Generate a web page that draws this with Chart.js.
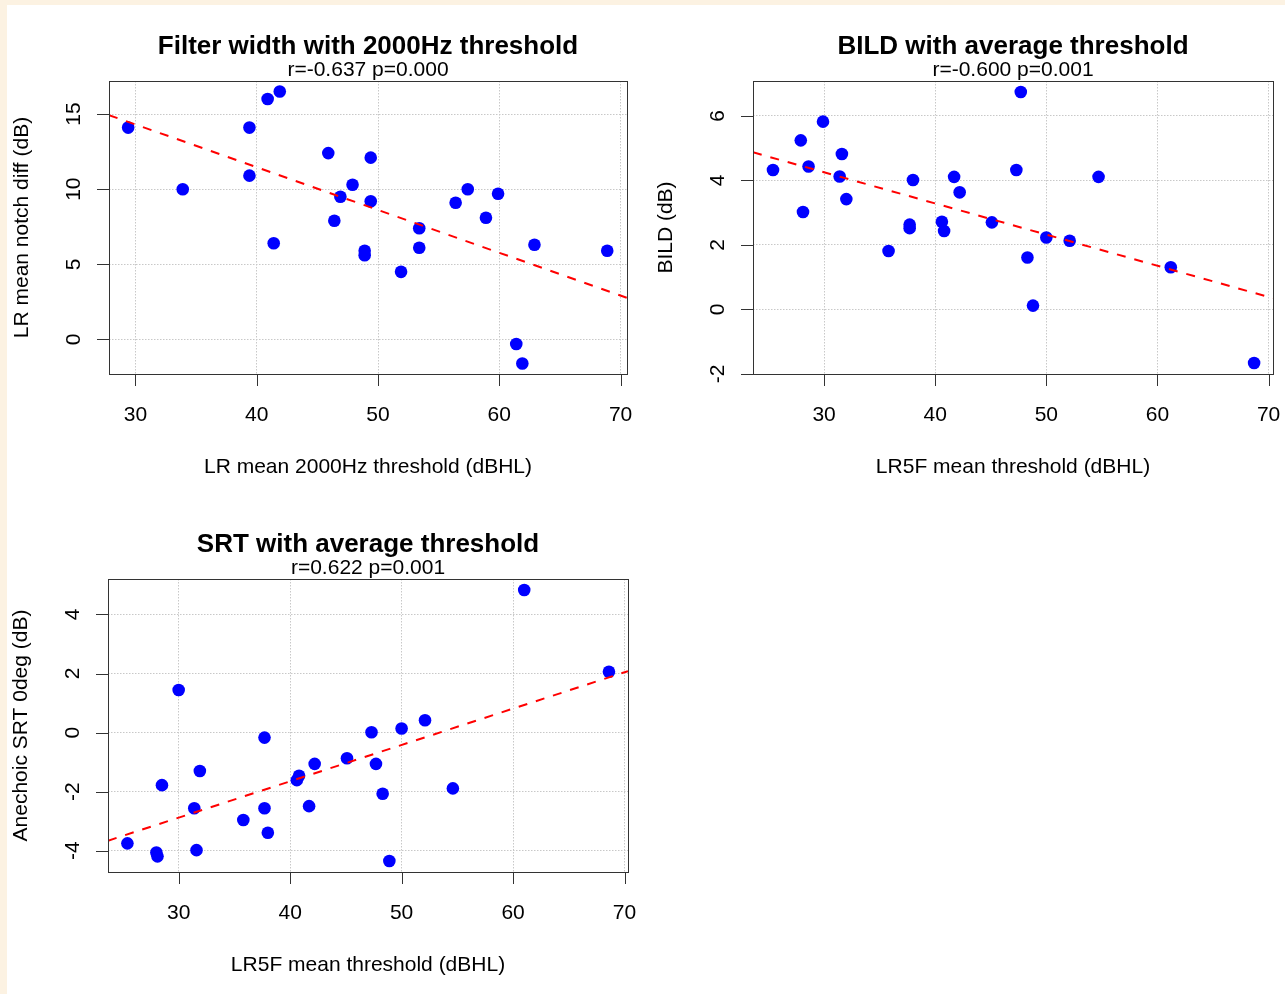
<!DOCTYPE html>
<html>
<head>
<meta charset="utf-8">
<script src="https://cdn.jsdelivr.net/npm/chart.js@4.4.1/dist/chart.umd.min.js"></script>
<style>
  html, body { margin: 0; padding: 0; background: #fff; }
  body { width: 1285px; height: 994px; position: relative; overflow: hidden; }
  canvas { position: absolute; left: 0; top: 0; }
  .edgeTop { position: absolute; left: 0; top: 0; width: 1285px; height: 5px; background: #fcf2e2; }
  .edgeLeft { position: absolute; left: 0; top: 0; width: 7px; height: 994px; background: #fcf2e2; }
</style>
</head>
<body>
<div class="edgeTop"></div>
<div class="edgeLeft"></div>
<canvas id="chart1" width="1285" height="994"></canvas>
<canvas id="chart2" width="1285" height="994"></canvas>
<canvas id="chart3" width="1285" height="994"></canvas>
<script>
// Panel 1: filter width vs 2000Hz threshold
const x1 = [29.4, 33.9, 39.4, 39.4, 40.9, 41.9, 41.4, 45.9, 49.4, 47.9, 46.9, 49.4, 46.4,
            48.9, 48.9, 51.9, 53.4, 53.4, 56.4, 57.4, 59.9, 58.9, 62.9, 68.9, 61.4, 61.9];
const y1 = [14.1, 10.0, 14.1, 10.9, 16.0, 16.5, 6.4, 12.4, 12.1, 10.3, 9.5, 9.2, 7.9,
            5.9, 5.6, 4.5, 7.4, 6.1, 9.1, 10.0, 9.7, 8.1, 6.3, 5.9, -0.3, -1.6];
const fitX1 = [27.82, 70.53];
const fitY1 = [14.93, 2.77];
const xTicks1 = [30, 40, 50, 60, 70];
const yTicks1 = [0, 5, 10, 15];

// Panel 2: BILD vs average threshold
const x2 = [25.4, 27.9, 28.1, 28.6, 29.9, 31.4, 31.6, 32.0, 35.8, 37.7, 37.7, 38.0, 40.6,
            40.8, 41.7, 42.2, 45.1, 47.3, 47.7, 48.3, 48.8, 50.0, 52.1, 54.7, 61.2, 68.7];
const y2 = [4.32, 5.24, 3.02, 4.43, 5.82, 4.12, 4.82, 3.42, 1.81, 2.63, 2.52, 4.01, 2.72,
            2.43, 4.11, 3.63, 2.70, 4.32, 6.74, 1.61, 0.12, 2.23, 2.13, 4.11, 1.31, -1.66];
const fitX2 = [23.6, 70.4];
const fitY2 = [4.87, 0.35];
const xTicks2 = [30, 40, 50, 60, 70];
const yTicks2 = [-2, 0, 2, 4, 6];

// Panel 3: SRT vs average threshold
const x3 = [25.4, 28.0, 28.1, 28.5, 30.0, 31.4, 31.6, 31.9, 35.8, 37.7, 37.7, 38.0, 40.6,
            40.8, 41.7, 42.2, 45.1, 47.3, 47.7, 48.3, 48.9, 50.0, 52.1, 54.6, 61.0, 68.6];
const y3 = [-3.75, -4.06, -4.19, -1.78, 1.44, -2.56, -3.98, -1.30, -2.96, -0.17, -2.56, -3.39, -1.61,
            -1.46, -2.49, -1.06, -0.87, 0.01, -1.06, -2.07, -4.35, 0.14, 0.42, -1.89, 4.83, 2.06];
const fitX3 = [23.66, 70.31];
const fitY3 = [-3.66, 2.08];
const xTicks3 = [30, 40, 50, 60, 70];
const yTicks3 = [-4, -2, 0, 2, 4];

const FONT = '"Liberation Sans", Arial, sans-serif';

// draws the R-style box, tick marks and all the text around the plot region
const rFrame = {
  id: 'rFrame',
  afterDatasetsDraw(chart, args, opts) {
    const { ctx, chartArea: a, scales: { x, y } } = chart;
    const cx = (a.left + a.right) / 2;
    const cy = (a.top + a.bottom) / 2;
    ctx.save();
    ctx.strokeStyle = '#333';
    ctx.lineWidth = 1;
    ctx.strokeRect(a.left + 0.5, a.top + 0.5, a.right - a.left, a.bottom - a.top);

    ctx.beginPath();
    opts.xTicks.forEach(v => {
      const px = Math.round(x.getPixelForValue(v)) + 0.5;
      ctx.moveTo(px, a.bottom);
      ctx.lineTo(px, a.bottom + 12);
    });
    opts.yTicks.forEach(v => {
      const py = Math.round(y.getPixelForValue(v)) + 0.5;
      ctx.moveTo(a.left, py);
      ctx.lineTo(a.left - 12, py);
    });
    ctx.stroke();

    ctx.fillStyle = '#000';
    ctx.textAlign = 'center';
    ctx.textBaseline = 'middle';
    ctx.font = '21px ' + FONT;
    opts.xTicks.forEach(v => ctx.fillText(String(v), x.getPixelForValue(v), a.bottom + 41));
    opts.yTicks.forEach(v => {
      ctx.save();
      ctx.translate(a.left - 35, y.getPixelForValue(v));
      ctx.rotate(-Math.PI / 2);
      ctx.fillText(String(v), 0, 0);
      ctx.restore();
    });
    ctx.fillText(opts.xTitle, cx, a.bottom + 93);
    ctx.save();
    ctx.translate(a.left - 87, cy);
    ctx.rotate(-Math.PI / 2);
    ctx.fillText(opts.yTitle, 0, 0);
    ctx.restore();

    ctx.fillText(opts.subtitle, cx, a.top - 11);
    ctx.font = 'bold 26px ' + FONT;
    ctx.fillText(opts.title, cx, a.top - 34);
    ctx.restore();
  }
};

function makePanel(id, xs, ys, fx, fy, xTicks, yTicks, xr, yr, box, text) {
  new Chart(document.getElementById(id), {
    type: 'scatter',
    data: {
      datasets: [
        {
          type: 'line',
          data: fx.map((v, i) => ({ x: v, y: fy[i] })),
          borderColor: '#ff0000',
          borderWidth: 2,
          borderDash: [9, 9],
          pointRadius: 0,
          fill: false,
          clip: 0,
          order: 0
        },
        {
          data: xs.map((v, i) => ({ x: v, y: ys[i] })),
          backgroundColor: '#0000ff',
          borderWidth: 0,
          pointRadius: 6.3,
          order: 1
        }
      ]
    },
    options: {
      responsive: false,
      animation: false,
      events: [],
      layout: {
        padding: { left: box[0], top: box[1], right: 1285 - box[2], bottom: 994 - box[3] }
      },
      plugins: {
        legend: { display: false },
        tooltip: { enabled: false },
        rFrame: { xTicks, yTicks, ...text }
      },
      scales: {
        x: {
          type: 'linear',
          min: xr[0],
          max: xr[1],
          afterBuildTicks: s => { s.ticks = xTicks.map(v => ({ value: v })); },
          ticks: { display: false },
          grid: { color: '#c8c8c8', lineWidth: 1, drawTicks: false },
          border: { display: false, dash: [1.5, 1.5] }
        },
        y: {
          type: 'linear',
          min: yr[0],
          max: yr[1],
          afterBuildTicks: s => { s.ticks = yTicks.map(v => ({ value: v })); },
          ticks: { display: false },
          grid: { color: '#c8c8c8', lineWidth: 1, drawTicks: false },
          border: { display: false, dash: [1.5, 1.5] }
        }
      }
    },
    plugins: [rFrame]
  });
}

makePanel('chart1', x1, y1, fitX1, fitY1, xTicks1, yTicks1, [27.82, 70.53], [-2.3, 17.2],
  [109, 81, 627, 374], {
    title: 'Filter width with 2000Hz threshold',
    subtitle: 'r=-0.637 p=0.000',
    xTitle: 'LR mean 2000Hz threshold (dBHL)',
    yTitle: 'LR mean notch diff (dB)'
  });

makePanel('chart2', x2, y2, fitX2, fitY2, xTicks2, yTicks2, [23.6, 70.4], [-2.0, 7.08],
  [753, 81, 1273, 374], {
    title: 'BILD with average threshold',
    subtitle: 'r=-0.600 p=0.001',
    xTitle: 'LR5F mean threshold (dBHL)',
    yTitle: 'BILD (dB)'
  });

makePanel('chart3', x3, y3, fitX3, fitY3, xTicks3, yTicks3, [23.66, 70.31], [-4.72, 5.2],
  [108, 579, 628, 872], {
    title: 'SRT with average threshold',
    subtitle: 'r=0.622 p=0.001',
    xTitle: 'LR5F mean threshold (dBHL)',
    yTitle: 'Anechoic SRT 0deg (dB)'
  });
</script>
</body>
</html>
